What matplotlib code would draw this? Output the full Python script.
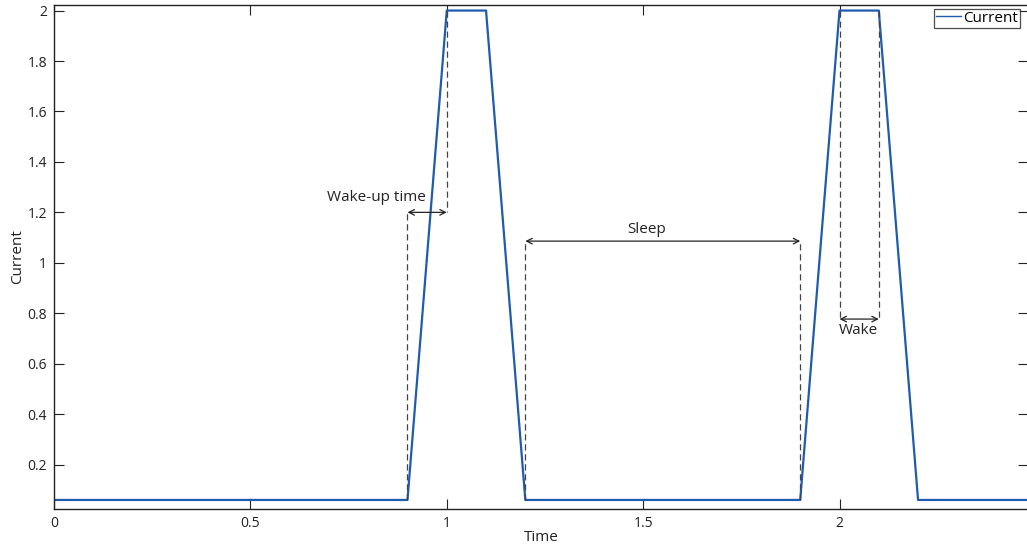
import matplotlib.pyplot as plt

# ---------------------------------------------------------------------
# Data
# ---------------------------------------------------------------------

time = [0, 0.9, 1.0, 1.1, 1.2, 1.9, 2.0, 2.1, 2.2, 2.48]
current = [0.06, 0.06, 2.0, 2.0, 0.06, 0.06, 2.0, 2.0, 0.06, 0.06]

x_ticks = [0, 0.5, 1, 1.5, 2]
y_ticks = [0.2, 0.4, 0.6, 0.8, 1.0, 1.2, 1.4, 1.6, 1.8, 2.0]
y_tick_labels = ["0.2", "0.4", "0.6", "0.8", "1", "1.2", "1.4", "1.6", "1.8", "2"]

# annotations: (label, x_start, x_end, arrow_y, text_x, text_y)
wakeup = ("Wake-up time", 0.9, 1.0, 1.2, 0.82, 1.257)
sleep = ("Sleep", 1.2, 1.9, 1.086, 1.508, 1.134)
wake = ("Wake", 2.0, 2.1, 0.777, 2.048, 0.733)

# ---------------------------------------------------------------------
# Visualize
# ---------------------------------------------------------------------

plt.rcParams["font.family"] = ["Open Sans", "DejaVu Sans"]
plt.rcParams["font.size"] = 10

fig = plt.figure(figsize=(10.27, 5.5), dpi=100)
ax = fig.add_axes([0.0526, 0.0745, 0.9484, 0.9164])

ax.plot(time, current, color="#1f5bb0", lw=1.6, label="Current")

dash = dict(color="#444444", ls=(0, (5, 3)), lw=0.9)
arrow = dict(arrowstyle="<->", color="#222222", lw=0.9, shrinkA=0, shrinkB=0)

# wake-up time: lines from low level / top level to the arrow
ax.plot([wakeup[1], wakeup[1]], [current[1], wakeup[3]], **dash)
ax.plot([wakeup[2], wakeup[2]], [current[2], wakeup[3]], **dash)
ax.annotate("", xy=(wakeup[1], wakeup[3]), xytext=(wakeup[2], wakeup[3]), arrowprops=arrow)
ax.text(wakeup[4], wakeup[5], wakeup[0], ha="center", va="center", fontsize=11, color="#222222")

# sleep
ax.plot([sleep[1], sleep[1]], [current[4], sleep[3]], **dash)
ax.plot([sleep[2], sleep[2]], [current[5], sleep[3]], **dash)
ax.annotate("", xy=(sleep[1], sleep[3]), xytext=(sleep[2], sleep[3]), arrowprops=arrow)
ax.text(sleep[4], sleep[5], sleep[0], ha="center", va="center", fontsize=11, color="#222222")

# wake
ax.plot([wake[1], wake[1]], [current[6], wake[3]], **dash)
ax.plot([wake[2], wake[2]], [current[7], wake[3]], **dash)
ax.annotate("", xy=(wake[1], wake[3]), xytext=(wake[2], wake[3]), arrowprops=arrow)
ax.text(wake[4], wake[5], wake[0], ha="center", va="center", fontsize=11, color="#222222")

ax.set_xlim(0, 2.48)
ax.set_ylim(0.024, 2.022)
ax.set_xticks(x_ticks)
ax.set_xticklabels(["0", "0.5", "1", "1.5", "2"])
ax.set_yticks(y_ticks)
ax.set_yticklabels(y_tick_labels)
ax.tick_params(direction="in", top=True, right=True, length=7, width=0.8,
               colors="#222222", labelsize=10, pad=5)
for s in ax.spines.values():
    s.set_color("#222222")
    s.set_linewidth(1.0)

ax.set_xlabel("Time", fontsize=11, labelpad=-1, color="#222222")
ax.set_ylabel("Current", fontsize=11, color="#222222")
ax.yaxis.set_label_coords(-0.03, 0.5)

leg = ax.legend(loc="upper left", bbox_to_anchor=(0.9035, 0.993), fontsize=11,
                frameon=True, fancybox=False, handlelength=1.6, handletextpad=0.15,
                borderpad=0.15, borderaxespad=0, edgecolor="#222222")
leg.get_frame().set_linewidth(0.9)
for line in leg.get_lines():
    line.set_linewidth(1.0)

plt.savefig("out.png", dpi=100)
